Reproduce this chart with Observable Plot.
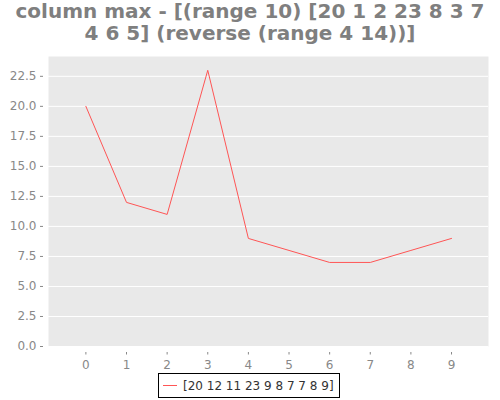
<!DOCTYPE html>
<html>
<head>
<meta charset="utf-8">
<script src="https://cdn.jsdelivr.net/npm/d3@7"></script>
<script src="https://cdn.jsdelivr.net/npm/@observablehq/plot@0.6"></script>
<style>
  body { margin: 0; background: #fff; font-family: "DejaVu Sans", sans-serif; }
  #wrap { position: relative; width: 500px; height: 400px; overflow: hidden; }
  #title { position: absolute; left: 0; top: 0px; width: 500px; text-align: center; font-weight: bold; font-size: 20px; line-height: 22px; color: #7f7f7f; }
  #chart { position: absolute; left: 0; top: 50px; }
  #legend { position: absolute; left: 158px; top: 373px; width: 182px; height: 25px; border: 1px solid #000; box-sizing: border-box; background: #fff; font-size: 12px; color: #333; display: flex; align-items: center; }
  #legend .sw { display: inline-block; width: 14px; height: 0; border-top: 1px solid #ff5555; margin: 0 6px 0 4px; }
</style>
</head>
<body>
<div id="wrap">
  <div id="title">column max - [(range 10) [20 1 2 23 8 3 7<br>4 6 5] (reverse (range 4 14))]</div>
  <div id="chart"></div>
  <div id="legend"><span class="sw"></span><span id="legtext"></span></div>
</div>
<script>
const xs = [0, 1, 2, 3, 4, 5, 6, 7, 8, 9];
const ys = [20, 12, 11, 23, 9, 8, 7, 7, 8, 9];
const xTicks = [0, 1, 2, 3, 4, 5, 6, 7, 8, 9];
const yTicks = [0, 2.5, 5, 7.5, 10, 12.5, 15, 17.5, 20, 22.5];
const seriesLabel = "[20 12 11 23 9 8 7 7 8 9]";

const data = xs.map((x, i) => ({x, y: ys[i]}));

const plot = Plot.plot({
  width: 500,
  height: 320,
  marginLeft: 48,
  marginRight: 12,
  marginTop: 6,
  marginBottom: 24,
  style: { fontFamily: "DejaVu Sans", fontSize: "12px", color: "#888", background: "transparent", overflow: "visible" },
  x: { domain: [-0.92, 9.91] },
  y: { domain: [0, 24.15] },
  marks: [
    Plot.frame({ fill: "#e9e9e9", stroke: null }),
    Plot.ruleY(yTicks, { stroke: "#fff", strokeWidth: 1 }),
    Plot.axisY({ ticks: yTicks, tickFormat: d => d.toFixed(1), tickSize: 3, tickPadding: 4, dx: -5, label: null, stroke: "#888", fill: "#888", fontSize: 12 }),
    Plot.axisX({ ticks: xTicks, tickFormat: d => String(d), tickSize: 2.5, tickPadding: 5, dy: 6, label: null, stroke: "#888", fill: "#888", fontSize: 12 }),
    Plot.line(data, { x: "x", y: "y", stroke: "#ff5555", strokeWidth: 1 })
  ]
});
plot.setAttribute("height", 335);
plot.setAttribute("viewBox", "0 0 500 335");
document.getElementById("chart").appendChild(plot);
document.getElementById("legtext").textContent = seriesLabel;
</script>
</body>
</html>
